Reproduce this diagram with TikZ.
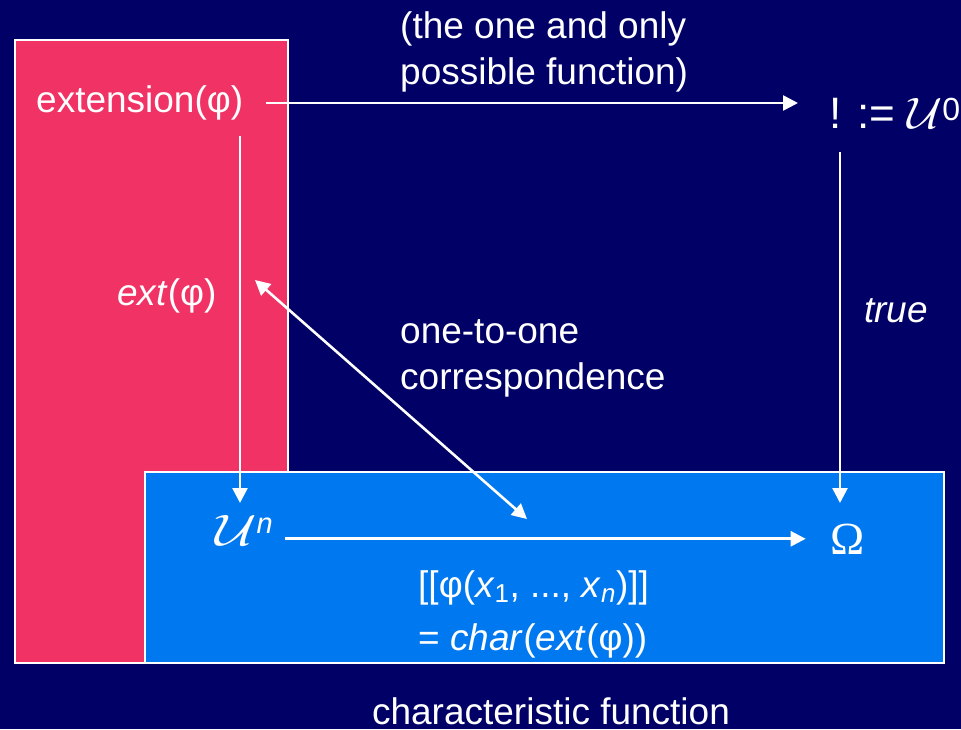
\RequirePackage{fix-cm}
\documentclass[tikz,border=0pt]{standalone}
\usepackage{fontspec}
\setmainfont{Liberation Sans}
\newfontfamily\omegafont{Liberation Serif}
\usepackage{xcolor}
\usetikzlibrary{arrows.meta,positioning,calc}

\definecolor{navybg}{RGB}{0,0,102}
\definecolor{extred}{RGB}{240,50,100}
\definecolor{charblue}{RGB}{0,120,240}

\newcommand{\univset}[1][1.3]{\scalebox{#1}[1]{$\mathcal{U}$}}

\begin{document}
\begin{tikzpicture}[
    x=1pt, y=-1pt,
    font=\fontsize{37}{46}\selectfont,
    panel/.style={draw=white, line width=2pt},
    label/.style={text=white, inner sep=0pt},
    arrow/.style={-{Triangle[length=15pt,width=15pt]}, draw=white, line width=2.6pt},
    dblarrow/.style={{Triangle[length=15pt,width=15pt]}-{Triangle[length=15pt,width=15pt]}, draw=white, line width=2.6pt}
]

% Background
\useasboundingbox (0,0) rectangle (961,729);
\clip (0,0) rectangle (961,729);
\fill[navybg] (0,0) rectangle (961,729);

% Panels
\draw[panel, fill=extred] (15,40) rectangle (288,663);
\draw[panel, fill=charblue] (145,472) rectangle (944,663);

% Objects
\node[label, anchor=base west, font=\fontsize{44}{50}\selectfont] (bang) at (829,128)
    {!\hspace{16pt}:=\hspace{12pt}\univset[1.1]\raisebox{8pt}{\fontsize{32}{36}\selectfont 0}};
\node[label, anchor=base west] (extension) at (36,112) {extension(φ)};
\node[label, anchor=base] (Un) at (244,545)
    {\fontsize{44}{50}\selectfont\univset\raisebox{12pt}{\fontsize{29}{34}\selectfont\itshape n}};
\node[label, anchor=base, font=\fontsize{46}{52}\omegafont] (Omega) at (848,554) {Ω};

% Labels
\node[label, anchor=base west, align=left] (onlyfn) at (400,84) {(the one and only\\possible function)};
\node[label, anchor=base west] (extlbl) at (117,305) {\textit{ext}(φ)};
\node[label, anchor=base west, align=left] (corr) at (400,389) {one-to-one\\correspondence};
\node[label, anchor=base] (truelbl) at (896,322) {\textit{true}};
\node[label, anchor=base west, align=left] (charfml) at (418,650) {[[φ(\textit{x}\textsubscript{1}, ..., \textit{x}\textsubscript{\textit{n}})]]\\[7pt]= \textit{char}(\textit{ext}(φ))};
\node[label, anchor=base] (charfn) at (551,724) {characteristic function};

% Correspondence end points
\coordinate (corrA) at (255,280);
\coordinate (corrB) at (527,519);

% Connectors
\draw[arrow] ($(extension.base east)+(23,-9)$) -- ($(bang.base west)+(-31,-25)$);
\draw[arrow] ($(extension.base -| corrA)+(-15,24)$) -- ($(Un.base -| corrA)+(-15,-42)$);
\draw[arrow] ($(bang.base west)+(11,24)$) -- ($(Omega.base)+(-8,-51)$);
\draw[arrow] ($(Omega.west -| Un.east)+(12,0)$) -- ($(Omega.west)+(-25,0)$);
\draw[dblarrow] (corrA) -- (corrB);

\end{tikzpicture}
\end{document}
